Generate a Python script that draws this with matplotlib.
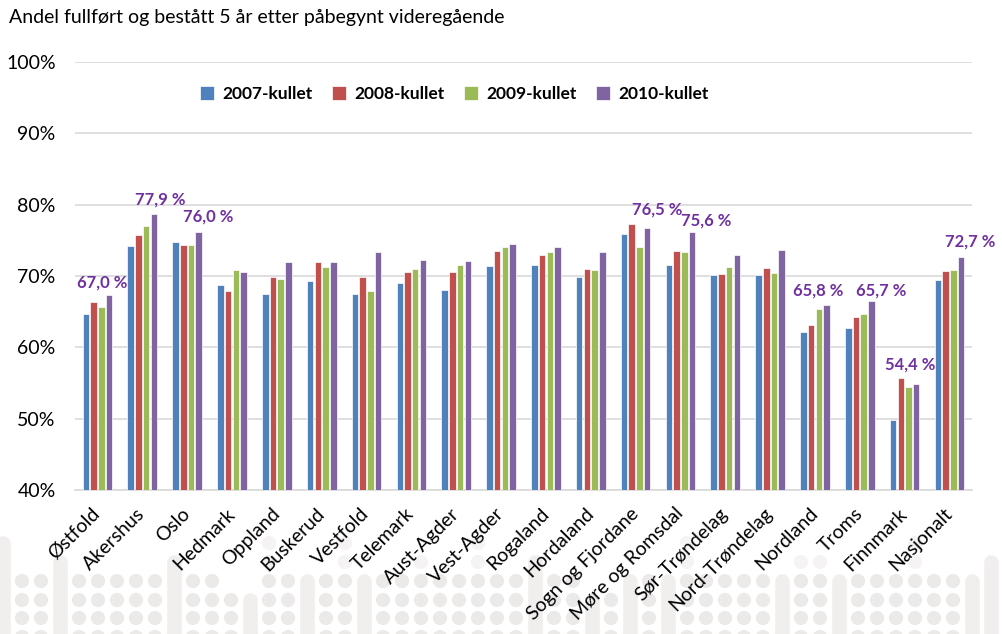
import numpy as np
import matplotlib
matplotlib.use("Agg")
import matplotlib.pyplot as plt
from matplotlib.ticker import MultipleLocator, FuncFormatter

plt.rcParams['font.family'] = ['Lato', 'DejaVu Sans']

fylker = ['Østfold', 'Akershus', 'Oslo', 'Hedmark', 'Oppland', 'Buskerud', 'Vestfold',
          'Telemark', 'Aust-Agder', 'Vest-Agder', 'Rogaland', 'Hordaland', 'Sogn og Fjordane',
          'Møre og Romsdal', 'Sør-Trøndelag', 'Nord-Trøndelag', 'Nordland', 'Troms',
          'Finnmark', 'Nasjonalt']
kull = ['2007-kullet', '2008-kullet', '2009-kullet', '2010-kullet']

k2007 = [64.7, 74.2, 74.8, 68.7, 67.5, 69.3, 67.5, 69.0, 68.0, 71.4, 71.6, 69.8, 75.9,
         71.5, 70.2, 70.2, 62.2, 62.7, 49.8, 69.4]
k2008 = [66.3, 75.8, 74.4, 67.9, 69.9, 71.9, 69.8, 70.6, 70.6, 73.5, 72.9, 71.0, 77.3,
         73.5, 70.3, 71.1, 63.1, 64.2, 55.7, 70.7]
k2009 = [65.7, 77.0, 74.3, 70.8, 69.6, 71.2, 67.9, 71.0, 71.6, 74.1, 73.4, 70.9, 74.1,
         73.3, 71.3, 70.4, 65.4, 64.7, 54.4, 70.9]
k2010 = [67.4, 78.7, 76.2, 70.6, 71.9, 72.0, 73.4, 72.3, 72.1, 74.5, 74.0, 73.3, 76.8,
         76.1, 72.9, 73.7, 66.0, 66.5, 54.9, 72.7]

# etiketter over 2010-søylene: tekst, forskyvning x / y i piksler
etiketter = {0: ('67,0 %', -7, 4), 1: ('77,9 %', 6, 6), 2: ('76,0 %', 9, 7),
             12: ('76,5 %', 10, 10), 13: ('75,6 %', 14, 4), 16: ('65,8 %', -8, 6),
             17: ('65,7 %', 10, 2), 18: ('54,4 %', -6, 11), 19: ('72,7 %', 9, 7)}

farger = ['#4F81BD', '#C0504D', '#9BBB59', '#8064A2']

fig = plt.figure(figsize=(10.02, 6.34), dpi=100)

# dekorativt prikkmønster nederst
bg = fig.add_axes([0, 0, 1, 1], zorder=0)
bg.set_xlim(0, 1002)
bg.set_ylim(634, 0)
bg.axis('off')
rader = [543, 562, 581, 600, 618, 637]
topper = [0, 2, 2, 1, 2, 2, 2, 2, 2, 1, 2, 2, 3, 3, 0, 2, 2, 2, 0, 2, 2, 2, 1, 2, 2, 0, 2,
          2, 1, 2, 2, 3, 3, 2, 2, 2, 0, 2, 2, 2, 2, 2, 1, 1, 2, 2, 2, 2, 0, 2, 2, 2, 1]
piller = {0, 3, 9, 13, 16, 19, 28, 31, 33, 35, 41, 44, 51, 52}
for k, t in enumerate(topper):
    xk = 3 + 19 * k
    if k in piller:
        bg.plot([xk, xk], [rader[t], 650], color='#F1EEEE', lw=10.5, solid_capstyle='round')
        continue
    for r in range(t, len(rader)):
        bg.scatter(xk, rader[r], s=105, color='#F5F3F3' if r < 2 else '#ECE9E9',
                   edgecolor='none')

ax = fig.add_axes([0.0749, 0.2271, 0.8951, 0.6751], zorder=1)
ax.patch.set_alpha(0)

x = np.arange(len(fylker))
step = 0.172
for i, (verdier, farge, navn) in enumerate(zip([k2007, k2008, k2009, k2010], farger, kull)):
    ax.bar(x + (i - 1.5) * step, np.array(verdier), width=0.145, color=farge,
           edgecolor='white', linewidth=0.5, label=navn, zorder=3)

for idx, (tekst, dx, dy) in etiketter.items():
    ax.annotate(tekst, (x[idx] + 1.5 * step, k2010[idx]), xytext=(dx * 0.72, dy * 0.72),
                textcoords='offset points', ha='center', va='bottom',
                color='#7030A0', fontsize=12, fontweight='bold')

ax.set_ylim(40, 100)
ax.set_xlim(-0.5, len(fylker) - 0.5)
ax.yaxis.set_major_locator(MultipleLocator(10))
ax.yaxis.set_major_formatter(FuncFormatter(lambda v, p: '%d%%' % v))
ax.grid(True, axis='y', color='#D9D9D9', linewidth=1.2, zorder=0)
for s in ['top', 'right', 'left']:
    ax.spines[s].set_visible(False)
ax.spines['bottom'].set_color('#D9D9D9')
ax.spines['bottom'].set_linewidth(1.2)
ax.tick_params(axis='both', length=0, labelsize=14, colors='black')
ax.tick_params(axis='y', pad=14)
ax.tick_params(axis='x', pad=15)
ax.set_xticks(x)
ax.set_xticklabels(fylker, rotation=45, ha='right', va='center', rotation_mode='anchor',
                   fontsize=14)

leg = ax.legend(loc='center', bbox_to_anchor=(0.423, 0.925), ncol=4, frameon=False,
                handlelength=0.8, handleheight=0.8, handletextpad=0.5, columnspacing=1.1,
                prop={'weight': 'bold', 'size': 12.5})

fig.text(0.009, 0.972, 'Andel fullført og bestått 5 år etter påbegynt videregående',
         fontsize=14, va='center', ha='left')

plt.savefig('out.png', dpi=100)
